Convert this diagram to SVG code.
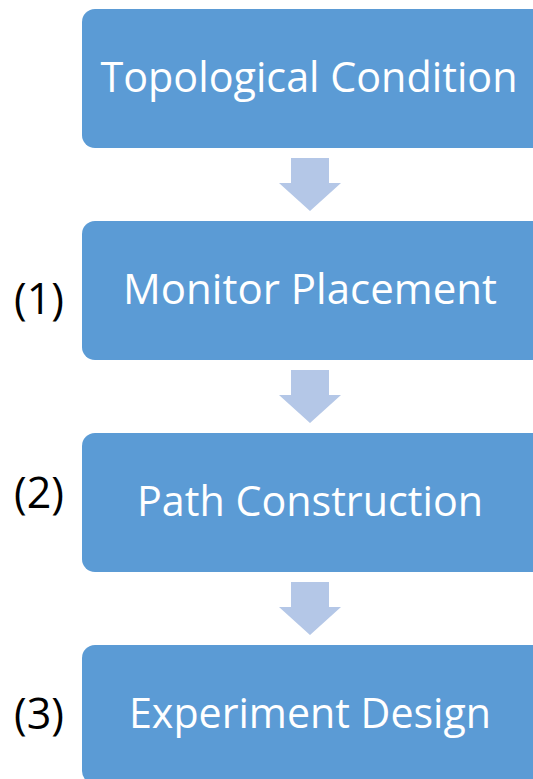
<svg xmlns="http://www.w3.org/2000/svg" width="533" height="779" viewBox="0 0 533 779">
<style>
.box{fill:#5B9BD5}
.t{font-family:"Open Sans","Noto Sans",sans-serif;font-size:42px;fill:#fff;text-anchor:middle}
.lbl{font-family:"Open Sans","Noto Sans",sans-serif;font-size:43px;fill:#000}
.arr{fill:#B4C7E7}
</style>
<rect width="533" height="779" fill="#fff"/>
<g id="connectors">
<polygon class="arr" points="291,158 329,158 329,183 341,183 310,211 279,183 291,183"/>
<polygon class="arr" points="291,370 329,370 329,395 341,395 310,423 279,395 291,395"/>
<polygon class="arr" points="291,582 329,582 329,607 341,607 310,635 279,607 291,607"/>
</g>
<g id="n1"><rect class="box" x="82" y="9" width="470" height="139" rx="13"/><text class="t" x="309" y="92" textLength="417" lengthAdjust="spacingAndGlyphs">Topological Condition</text></g>
<g id="n2"><rect class="box" x="82" y="221" width="470" height="139" rx="13"/><text class="t" x="310" y="304" textLength="374" lengthAdjust="spacingAndGlyphs">Monitor Placement</text></g>
<g id="n3"><rect class="box" x="82" y="433" width="470" height="139" rx="13"/><text class="t" x="310" y="516" textLength="346" lengthAdjust="spacingAndGlyphs">Path Construction</text></g>
<g id="n4"><rect class="box" x="82" y="645" width="470" height="139" rx="13"/><text class="t" x="310" y="728" textLength="362" lengthAdjust="spacingAndGlyphs">Experiment Design</text></g>
<text class="lbl" x="14" y="314">(1)</text>
<text class="lbl" x="14" y="508">(2)</text>
<text class="lbl" x="14" y="729">(3)</text>
</svg>
